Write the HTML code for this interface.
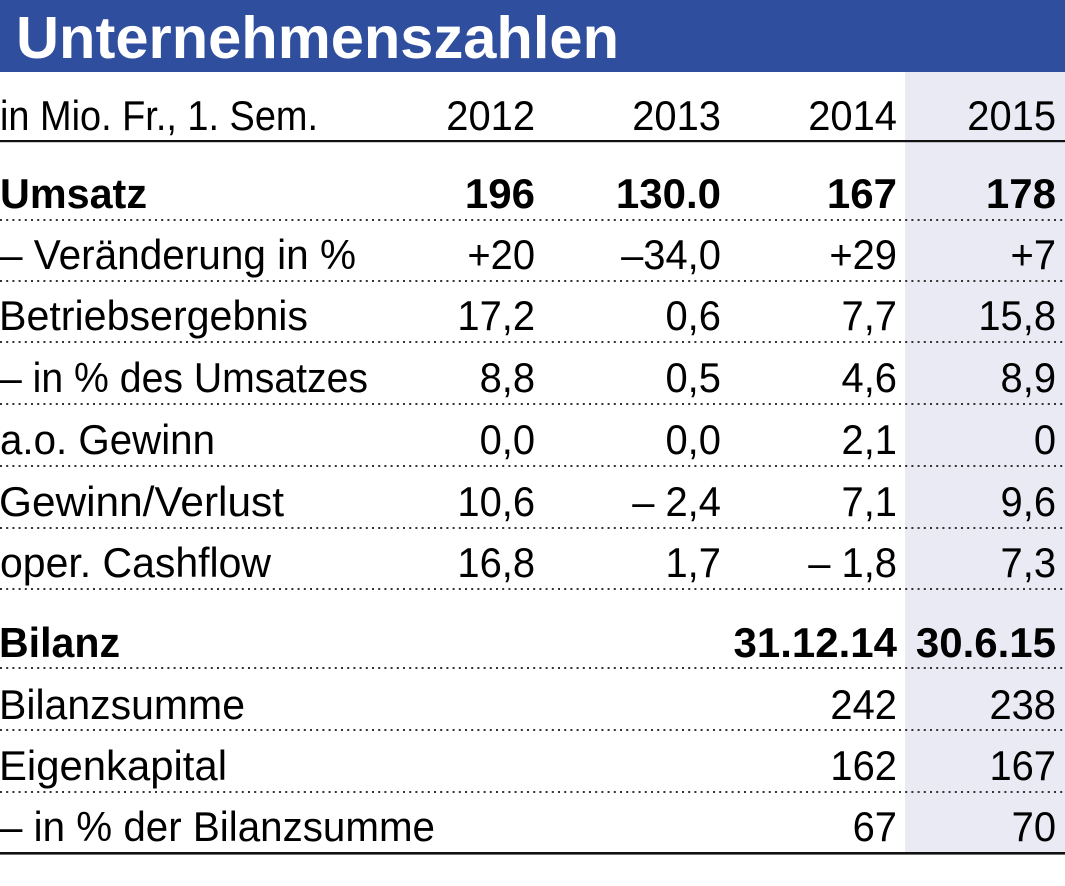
<!DOCTYPE html>
<html>
<head>
<meta charset="utf-8">
<style>
  html, body { margin: 0; padding: 0; background: #fff; }
  svg { display: block; }
  text { font-family: "Liberation Sans", Arial, sans-serif; fill: #000; }
  .r { font-size: 42px; }
  .b { font-size: 42px; font-weight: bold; }
</style>
</head>
<body>
<svg width="1065" height="886" viewBox="0 0 1065 886" xmlns="http://www.w3.org/2000/svg">
  <rect x="0" y="0" width="1065" height="886" fill="#ffffff"/>
  <!-- highlighted column -->
  <rect x="905" y="72" width="160" height="782" fill="#eaeaf5"/>
  <!-- title band -->
  <rect x="0" y="0" width="1065" height="72" fill="#304e9e"/>
  <text x="16" y="58" font-size="59" font-weight="bold" style="fill:#ffffff" textLength="603" lengthAdjust="spacingAndGlyphs">Unternehmenszahlen</text>

  <!-- header row -->
  <text class="r" x="0" y="130" textLength="318" lengthAdjust="spacingAndGlyphs">in Mio. Fr., 1. Sem.</text>
  <g transform="scale(0.95,1)" class="r" text-anchor="end">
    <text class="r" x="563.2" y="130">2012</text>
    <text class="r" x="758.9" y="130">2013</text>
    <text class="r" x="944.2" y="130">2014</text>
    <text class="r" x="1111.6" y="130">2015</text>
  </g>
  <rect x="0" y="140" width="1065" height="2.2" fill="#111"/>

  <!-- dotted separators -->
  <g stroke="#333" stroke-width="2" stroke-dasharray="2 4.2">
    <line x1="0" y1="220" x2="1065" y2="220"/>
    <line x1="0" y1="281" x2="1065" y2="281"/>
    <line x1="0" y1="342" x2="1065" y2="342"/>
    <line x1="0" y1="404" x2="1065" y2="404"/>
    <line x1="0" y1="466" x2="1065" y2="466"/>
    <line x1="0" y1="528" x2="1065" y2="528"/>
    <line x1="0" y1="589" x2="1065" y2="589"/>
    <line x1="0" y1="668" x2="1065" y2="668"/>
    <line x1="0" y1="730" x2="1065" y2="730"/>
    <line x1="0" y1="792" x2="1065" y2="792"/>
  </g>
  <rect x="0" y="852" width="1065" height="2.6" fill="#111"/>

  <!-- labels -->
  <text class="b" x="0" y="208" textLength="147" lengthAdjust="spacingAndGlyphs">Umsatz</text>
  <text class="r" x="0" y="269" textLength="356" lengthAdjust="spacingAndGlyphs">– Veränderung in %</text>
  <text class="r" x="-1" y="330" textLength="309" lengthAdjust="spacingAndGlyphs">Betriebsergebnis</text>
  <text class="r" x="0" y="392" textLength="368" lengthAdjust="spacingAndGlyphs">– in % des Umsatzes</text>
  <text class="r" x="0" y="454" textLength="215" lengthAdjust="spacingAndGlyphs">a.o. Gewinn</text>
  <text class="r" x="-1" y="516" textLength="285" lengthAdjust="spacingAndGlyphs">Gewinn/Verlust</text>
  <text class="r" x="0" y="577" textLength="271" lengthAdjust="spacingAndGlyphs">oper. Cashflow</text>
  <text class="b" x="-1" y="657" textLength="121" lengthAdjust="spacingAndGlyphs">Bilanz</text>
  <text class="r" x="-1" y="719" textLength="246" lengthAdjust="spacingAndGlyphs">Bilanzsumme</text>
  <text class="r" x="-1" y="780" textLength="228" lengthAdjust="spacingAndGlyphs">Eigenkapital</text>
  <text class="r" x="0" y="841" textLength="435" lengthAdjust="spacingAndGlyphs">– in % der Bilanzsumme</text>

  <!-- bold numbers -->
  <g text-anchor="end">
    <text class="b" x="535" y="208">196</text>
    <text class="b" x="721" y="208">130.0</text>
    <text class="b" x="897" y="208">167</text>
    <text class="b" x="1056" y="208">178</text>
    <text class="b" x="897" y="657">31.12.14</text>
    <text class="b" x="1056" y="657">30.6.15</text>
  </g>

  <!-- regular numbers -->
  <g transform="scale(0.95,1)" text-anchor="end">
    <text class="r" x="563.2" y="269">+20</text>
    <text class="r" x="758.9" y="269">–34,0</text>
    <text class="r" x="944.2" y="269">+29</text>
    <text class="r" x="1111.6" y="269">+7</text>

    <text class="r" x="563.2" y="330">17,2</text>
    <text class="r" x="758.9" y="330">0,6</text>
    <text class="r" x="944.2" y="330">7,7</text>
    <text class="r" x="1111.6" y="330">15,8</text>

    <text class="r" x="563.2" y="392">8,8</text>
    <text class="r" x="758.9" y="392">0,5</text>
    <text class="r" x="944.2" y="392">4,6</text>
    <text class="r" x="1111.6" y="392">8,9</text>

    <text class="r" x="563.2" y="454">0,0</text>
    <text class="r" x="758.9" y="454">0,0</text>
    <text class="r" x="944.2" y="454">2,1</text>
    <text class="r" x="1111.6" y="454">0</text>

    <text class="r" x="563.2" y="516">10,6</text>
    <text class="r" x="758.9" y="516">– 2,4</text>
    <text class="r" x="944.2" y="516">7,1</text>
    <text class="r" x="1111.6" y="516">9,6</text>

    <text class="r" x="563.2" y="577">16,8</text>
    <text class="r" x="758.9" y="577">1,7</text>
    <text class="r" x="944.2" y="577">– 1,8</text>
    <text class="r" x="1111.6" y="577">7,3</text>

    <text class="r" x="944.2" y="719">242</text>
    <text class="r" x="1111.6" y="719">238</text>

    <text class="r" x="944.2" y="780">162</text>
    <text class="r" x="1111.6" y="780">167</text>

    <text class="r" x="944.2" y="841">67</text>
    <text class="r" x="1111.6" y="841">70</text>
  </g>
</svg>
</body>
</html>
